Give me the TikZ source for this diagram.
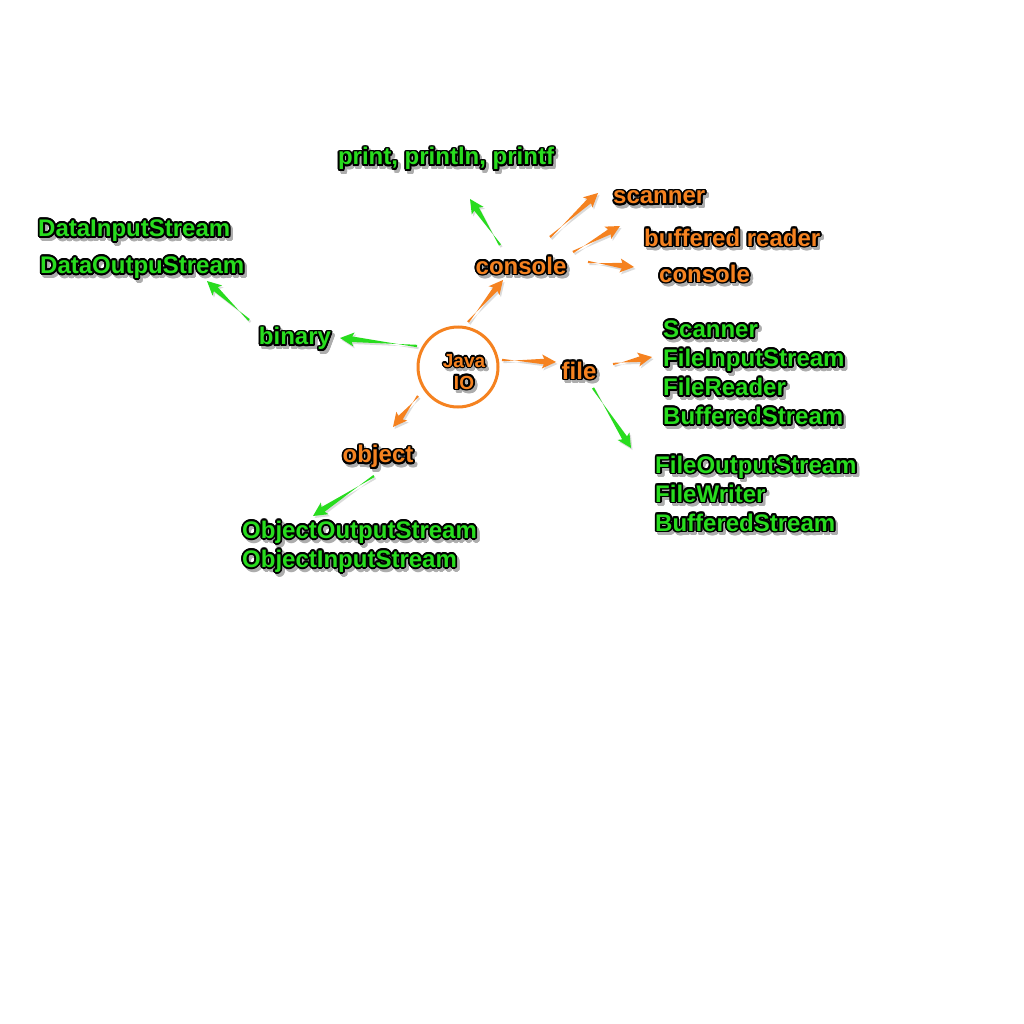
\documentclass[tikz,border=0pt]{standalone}
\usepackage{fontspec}
\setmainfont{Liberation Sans}
\usepackage{contour}
\usetikzlibrary{calc}
\definecolor{jorange}{RGB}{245,130,32}
\definecolor{jgreen}{RGB}{40,220,30}
\contourlength{1.8pt}
\newcommand\ct[1]{\rlap{\kern2.5pt\raisebox{-3pt}{\color{black!32}\contour{black!32}{#1}}}\contour{black}{#1}}
\newcommand\taperpath{($(tS)!1.2pt!90:(tT)$) -- ($(tN)!2.8pt!90:(tS)$) -- ($(tB)!7pt!90:(tS)$) -- (tT)
     -- ($(tB)!7pt!-90:(tS)$) -- ($(tN)!2.8pt!-90:(tS)$) -- ($(tS)!1.2pt!-90:(tT)$) -- cycle}
\newcommand\taper[3]{%
  \coordinate (tS) at #2;
  \coordinate (tT) at #3;
  \coordinate (tB) at ($(tT)!14pt!(tS)$);
  \coordinate (tN) at ($(tT)!12pt!(tS)$);
  \begin{scope}[transform canvas={shift={(1.5pt,-2pt)}}]
  \fill[black!14] \taperpath;
  \end{scope}
  \fill[#1] \taperpath;}
\tikzset{
  lab/.style={font=\fontsize{24}{29}\selectfont\bfseries, inner sep=3pt},
  glab/.style={lab, text=jgreen},
  olab/.style={lab, text=jorange},
}
\begin{document}
\begin{tikzpicture}[x=1pt,y=-1pt]
\fill[white] (0,0) rectangle (1024,1024);
\useasboundingbox (0,0) rectangle (1024,1024);

\node[glab] (print) at (446,161) {\ct{print, println, printf}};
\node[glab, anchor=west] (dis) at (35,233) {\ct{DataInputStream}};
\node[glab, anchor=west] (dos) at (37,270) {\ct{DataOutpuStream}};
\node[glab] (binary) at (295,341) {\ct{binary}};
\node[olab] (console) at (521,268) {\ct{console}};
\node[olab, anchor=west] (scanner) at (610,200) {\ct{scanner}};
\node[olab, anchor=west] (bufrd) at (641,240) {\ct{buffered reader}};
\node[olab, anchor=west] (console2) at (656,276) {\ct{console}};
\node[olab] (file) at (579,373) {\ct{file}};
\node[glab, anchor=west, align=left] (sgrp) at (660,375) {\ct{Scanner}\\\ct{FileInputStream}\\\ct{FileReader}\\\ct{BufferedStream}};
\node[glab, anchor=west, align=left] (fogrp) at (652,496) {\ct{FileOutputStream}\\\ct{FileWriter}\\\ct{BufferedStream}};
\node[olab] (object) at (378,459) {\ct{object}};
\node[glab, anchor=west, align=left] (oogrp) at (239,549) {\ct{ObjectOutputStream}\\\ct{ObjectInputStream}};
\node[circle, draw=jorange, line width=3pt, fill=white, minimum size=80pt, inner sep=0pt] (java) at (458,367) {};
\node[text=jorange, font=\fontsize{19}{22}\selectfont\bfseries, align=center, inner sep=0pt] (javatext) at (464,374)
      {\contourlength{1.3pt}\ct{Java}\\\ct{IO}};

\taper{jgreen}{([xshift=-41pt,yshift=21pt]java.center)}{([xshift=45pt,yshift=3pt]binary.center)}
\taper{jgreen}{([xshift=-46pt,yshift=21pt]binary.center)}{([xshift=170pt,yshift=-11pt]dos.west)}
\taper{jorange}{([xshift=10pt,yshift=45pt]java.center)}{([xshift=-18pt,yshift=-12pt]console.center)}
\taper{jgreen}{([xshift=-21pt,yshift=23pt]console.center)}{([xshift=24pt,yshift=-38pt]print.center)}
\taper{jorange}{([xshift=29pt,yshift=31pt]console.center)}{([xshift=-12pt,yshift=7pt]scanner.west)}
\taper{jorange}{([xshift=52pt,yshift=16pt]console.center)}{([xshift=-21pt,yshift=14pt]bufrd.west)}
\taper{jorange}{([xshift=67pt,yshift=6pt]console.center)}{([xshift=-22pt,yshift=9pt]console2.west)}
\taper{jorange}{([xshift=44pt,yshift=7pt]java.center)}{([xshift=-23pt,yshift=11pt]file.center)}
\taper{jorange}{([xshift=34pt,yshift=9pt]file.center)}{([xshift=-8pt,yshift=18pt]sgrp.west)}
\taper{jgreen}{([xshift=14pt,yshift=-15pt]file.center)}{([xshift=-21pt,yshift=48pt]fogrp.west)}
\taper{jorange}{([xshift=-40pt,yshift=-29pt]java.center)}{([xshift=15pt,yshift=32pt]object.center)}
\taper{jgreen}{([xshift=-4pt,yshift=-17pt]object.center)}{([xshift=74pt,yshift=33pt]oogrp.west)}
\end{tikzpicture}
\end{document}
